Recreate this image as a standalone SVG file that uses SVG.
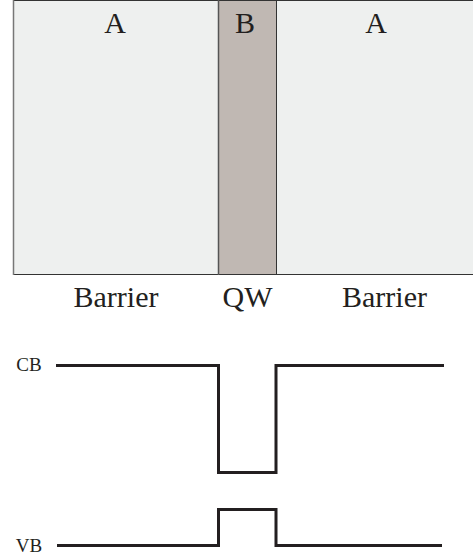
<svg xmlns="http://www.w3.org/2000/svg" width="473" height="557" viewBox="0 0 473 557">
<style>
text{font-family:'Liberation Serif','Times New Roman',Tinos,'Nimbus Roman','DejaVu Serif',serif;fill:#231f20;text-anchor:middle}
.big{font-size:30px}
.sm{font-size:19px}
.band{fill:none;stroke:#231f20;stroke-width:3;stroke-linejoin:miter}
</style>
<rect width="473" height="557" fill="#ffffff"/>
<g id="barrier-left">
<rect x="13.5" y="0.5" width="205" height="274" fill="#eef0ef" stroke="#333" stroke-width="1"/>
<line x1="13.5" y1="0" x2="13.5" y2="275" stroke="#777" stroke-width="1.5"/>
<text class="big" x="115" y="33" font-family="Liberation Serif, serif">A</text>
</g>
<g id="barrier-right">
<rect x="276.5" y="0.5" width="200" height="274" fill="#eef0ef" stroke="#333" stroke-width="1"/>
<text class="big" x="376" y="33" font-family="Liberation Serif, serif">A</text>
</g>
<g id="qw">
<rect x="218.5" y="0.5" width="58" height="274" fill="#c0b8b3" stroke="#333" stroke-width="1"/>
<line x1="218.5" y1="0" x2="218.5" y2="275" stroke="#555" stroke-width="1.5"/>
<text class="big" x="245" y="33" font-family="Liberation Serif, serif">B</text>
</g>
<g id="labels">
<text class="big" x="116" y="307" font-family="Liberation Serif, serif">Barrier</text>
<text class="big" x="247.5" y="307" font-family="Liberation Serif, serif">QW</text>
<text class="big" x="384.5" y="307" font-family="Liberation Serif, serif">Barrier</text>
</g>
<g id="cb">
<text class="sm" x="29" y="371" font-family="Liberation Serif, serif">CB</text>
<path class="band" d="M56 365.5 H218.5 V472.5 H276 V365.5 H444"/>
</g>
<g id="vb">
<text class="sm" x="29" y="552" font-family="Liberation Serif, serif">VB</text>
<path class="band" d="M57 545.5 H218.5 V509.5 H276 V545.5 H442"/>
</g>
</svg>
